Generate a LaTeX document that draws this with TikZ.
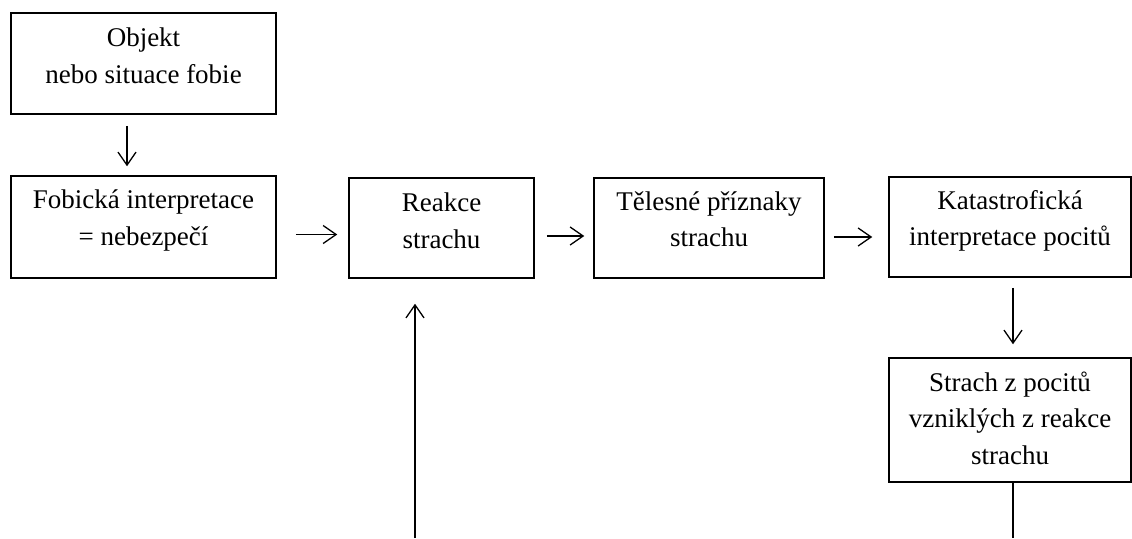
\documentclass[tikz,border=0pt]{standalone}
\usepackage{fontspec}
\setmainfont{Liberation Serif}
\usetikzlibrary{arrows.meta}
\tikzset{
  box/.style={draw=black, line width=1.5pt, rectangle, inner sep=0pt},
  txt/.style={align=center, inner sep=0pt, font=\fontsize{27}{36.5}\selectfont},
  conn/.style={line width=1.3pt, -{Straight Barb[length=13pt,width=18pt,line width=1.3pt]}},
  plain/.style={line width=1.3pt}
}
\begin{document}
\begin{tikzpicture}[x=1pt,y=-1pt]
\useasboundingbox (0,0) rectangle (1132,538);
% boxes
\node[box, minimum width=265pt, minimum height=101pt] (b1) at (143.5,63.5) {};
\node[box, minimum width=265pt, minimum height=102pt] (b2) at (143.5,227) {};
\node[box, minimum width=185pt, minimum height=100pt] (b3) at (441.5,228) {};
\node[box, minimum width=230pt, minimum height=100pt] (b4) at (709,228) {};
\node[box, minimum width=242pt, minimum height=100pt] (b5) at (1010,227) {};
\node[box, minimum width=242pt, minimum height=124pt] (b6) at (1010,420) {};
% texts
\node[txt, yshift=7.75pt] (t1) at (b1.center) {Objekt\\nebo situace fobie};
\node[txt, yshift=6.3pt] (t2) at (b2.center) {Fobická interpretace\\= nebezpečí};
\node[txt, yshift=7pt] (t3) at (b3.center) {Reakce\\strachu};
\node[txt, yshift=9pt] (t4) at (b4.center) {Tělesné příznaky\\strachu};
\node[txt, yshift=6pt] (t5) at (b5.center) {Katastrofická\\interpretace pocitů};
\node[txt, yshift=2pt] (t6) at (b6.center) {Strach z pocitů\\vzniklých z reakce\\strachu};
% loose ends
\coordinate (c1) at (1013,538);
\coordinate (c2) at (415,538);
% connectors
\draw[conn, shorten <=11pt, shorten >=9pt] ([xshift=-16.5pt]b1.south) -- ([xshift=-16.5pt]b2.north);
\draw[conn, shorten <=19pt, shorten >=11pt] ([yshift=-7.5pt]b2.east) -- ([yshift=-6.5pt]b3.west);
\draw[conn, shorten <=12pt, shorten >=9pt] ([yshift=-8pt]b3.east) -- ([yshift=-8pt]b4.west);
\draw[conn, shorten <=9pt, shorten >=16pt] ([yshift=-9pt]b4.east) -- ([yshift=-10pt]b5.west);
\draw[conn, shorten <=10pt, shorten >=13pt] ([xshift=3pt]b5.south) -- ([xshift=3pt]b6.north);
\draw[plain] ([xshift=3pt]b6.south) -- (c1);
\draw[conn, shorten >=25pt] (c2) -- ([xshift=-26.5pt]b3.south);
\end{tikzpicture}
\end{document}
